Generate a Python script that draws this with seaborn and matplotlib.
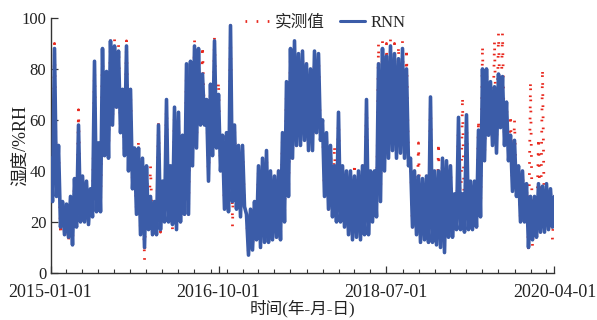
import numpy as np
import pandas as pd
import matplotlib
matplotlib.use("Agg")
import matplotlib.pyplot as plt
import matplotlib.dates as mdates
from matplotlib.ticker import FixedLocator, FixedFormatter
import seaborn as sns

# ---------------- data ----------------
start_date = "2015-01-01"
end_date = "2020-04-01"
tick_dates = ["2015-01-01", "2016-10-01", "2018-07-01", "2020-04-01"]

# RNN prediction: upper / lower envelope of the dense series, half-month columns
rnn_hi = [45, 88, 50, 28, 27, 30, 37, 58, 38, 36,
          33, 83, 51, 88, 79, 91, 89, 87, 72, 89,
          72, 49, 49, 45, 42, 30, 28, 58, 36, 68,
          42, 65, 63, 54, 82, 83, 89, 88, 78, 68,
          74, 91, 70, 54, 55, 97, 58, 50, 50, 23,
          25, 28, 42, 45, 48, 40, 38, 40, 55, 75,
          88, 91, 86, 87, 82, 80, 87, 86, 60, 55,
          50, 42, 63, 42, 40, 40, 38, 40, 42, 68,
          40, 40, 82, 88, 85, 89, 86, 84, 88, 80,
          45, 40, 38, 37, 38, 69, 40, 40, 45, 44,
          42, 31, 61, 31, 62, 36, 36, 56, 80, 80,
          75, 73, 78, 77, 67, 54, 52, 42, 40, 35,
          30, 30, 35, 34, 35, 33, 30]
rnn_lo = [28, 30, 18, 15, 14, 11, 18, 20, 20, 19,
          22, 24, 24, 46, 45, 58, 65, 55, 46, 40,
          33, 23, 15, 10, 17, 15, 15, 17, 20, 20,
          19, 17, 20, 23, 23, 42, 49, 58, 58, 36,
          46, 49, 40, 25, 24, 28, 25, 22, 26, 7,
          9, 13, 10, 12, 12, 13, 14, 13, 20, 30,
          45, 50, 50, 52, 48, 48, 55, 52, 30, 25,
          22, 20, 20, 18, 15, 13, 14, 13, 15, 15,
          20, 22, 28, 40, 45, 48, 45, 47, 45, 42,
          18, 15, 12, 13, 12, 12, 11, 10, 8, 14,
          14, 17, 17, 16, 17, 17, 18, 22, 44, 54,
          50, 47, 57, 50, 44, 32, 30, 20, 20, 10,
          13, 14, 16, 16, 17, 18, 20]

# measured values: upper / lower envelope, same columns
obs_hi = [45, 90, 50, 28, 27, 30, 37, 64, 38, 36,
          33, 83, 51, 88, 79, 92, 92, 90, 72, 91,
          72, 49, 52, 45, 42, 42, 28, 59, 36, 68,
          42, 65, 63, 54, 82, 83, 92, 88, 89, 68,
          74, 93, 75, 54, 55, 97, 58, 50, 50, 23,
          25, 28, 42, 45, 48, 40, 38, 40, 55, 75,
          88, 91, 86, 87, 82, 80, 87, 86, 60, 55,
          50, 50, 63, 42, 40, 40, 43, 40, 42, 68,
          40, 40, 90, 91, 90, 92, 90, 89, 91, 88,
          45, 40, 51, 37, 38, 69, 40, 51, 45, 44,
          42, 31, 61, 69, 62, 36, 36, 60, 89, 80,
          75, 91, 94, 94, 67, 62, 60, 42, 40, 35,
          75, 30, 53, 80, 35, 33, 30]
obs_lo = [28, 30, 15, 15, 12, 11, 18, 20, 20, 19,
          22, 24, 24, 46, 45, 58, 65, 55, 46, 40,
          33, 23, 15, 5, 17, 15, 15, 16, 20, 20,
          17, 16, 20, 23, 23, 42, 49, 58, 58, 36,
          46, 49, 40, 25, 24, 18, 25, 22, 26, 7,
          9, 13, 10, 12, 12, 13, 14, 13, 20, 30,
          45, 50, 50, 52, 48, 48, 55, 52, 30, 25,
          22, 20, 20, 18, 15, 13, 14, 13, 15, 15,
          20, 22, 28, 40, 45, 48, 45, 47, 45, 42,
          18, 15, 12, 13, 12, 12, 11, 10, 8, 14,
          14, 17, 17, 16, 17, 17, 18, 22, 44, 54,
          50, 47, 57, 50, 44, 32, 30, 20, 20, 9,
          10, 14, 16, 16, 17, 13, 20]

series_names = ["实测值", "RNN"]
y_ticks = [0, 20, 40, 60, 80, 100]

# ---------------- build long tables ----------------
times = pd.date_range(start_date, end_date, periods=len(rnn_hi))
offset = (times[1] - times[0]) * 0.5


def zigzag(hi, lo):
    df = pd.DataFrame({"time": list(times) + list(times + offset),
                       "value": list(hi) + list(lo)})
    return df.sort_values("time").reset_index(drop=True)


df_obs = zigzag(obs_hi, obs_lo)
df_rnn = zigzag(rnn_hi, rnn_lo)

# ---------------- style ----------------
sns.set_theme(style="ticks")
plt.rcParams["font.family"] = ["Liberation Serif", "Noto Sans CJK SC", "DejaVu Sans"]
plt.rcParams["axes.unicode_minus"] = False

RED = "#e8281e"
BLUE = "#3b5ca8"
DARK = "#333333"

fig = plt.figure(figsize=(5.97, 3.2), dpi=100)
fig.patch.set_facecolor("white")
ax = fig.add_axes([0.0846, 0.147, 0.8442, 0.797])
ax.set_facecolor("white")

sns.lineplot(data=df_obs, x="time", y="value", ax=ax, color=RED, lw=2.0,
             linestyle=(0, (0.6, 3.4)), estimator=None, label=series_names[0],
             zorder=2)
sns.lineplot(data=df_rnn, x="time", y="value", ax=ax, color=BLUE, lw=2.6,
             estimator=None, label=series_names[1], zorder=3)

ax.set_xlim(pd.Timestamp(start_date), pd.Timestamp(end_date))
ax.set_ylim(0, 100)

ax.xaxis.set_major_locator(FixedLocator(mdates.date2num(pd.to_datetime(tick_dates))))
ax.xaxis.set_major_formatter(FixedFormatter(tick_dates))
ax.xaxis.set_minor_locator(mdates.MonthLocator(bymonth=[1, 3, 5, 7, 9, 11]))
ax.set_yticks(y_ticks)

ax.tick_params(axis="both", which="major", direction="in", length=5, width=0.9,
               color=DARK, labelsize=12, labelcolor="#222222", pad=3)
ax.tick_params(axis="x", which="major", labelsize=13, pad=8)
ax.tick_params(axis="both", which="minor", direction="in", length=3, width=0.8,
               color=DARK)
ax.tick_params(axis="y", which="minor", left=False)

for s in ["top", "right"]:
    ax.spines[s].set_visible(False)
for s in ["left", "bottom"]:
    ax.spines[s].set_color(DARK)
    ax.spines[s].set_linewidth(1.0)

ax.set_xlabel("时间(年-月-日)", fontsize=12, color="#222222", labelpad=-1)
ax.set_ylabel("湿度/%RH", fontsize=13, color="#222222")
ax.yaxis.set_label_coords(-0.042, 0.5)

leg = ax.get_legend()
if leg is not None:
    leg.remove()
ax.legend(loc="center", bbox_to_anchor=(0.545, 0.98), ncol=2, frameon=False,
          fontsize=12, handlelength=1.5, handletextpad=0.3, columnspacing=0.9,
          borderaxespad=0)
for line in ax.get_legend().get_lines():
    if line.get_label() == series_names[1]:
        line.set_linewidth(2.2)

fig.savefig("out.png", dpi=100)
